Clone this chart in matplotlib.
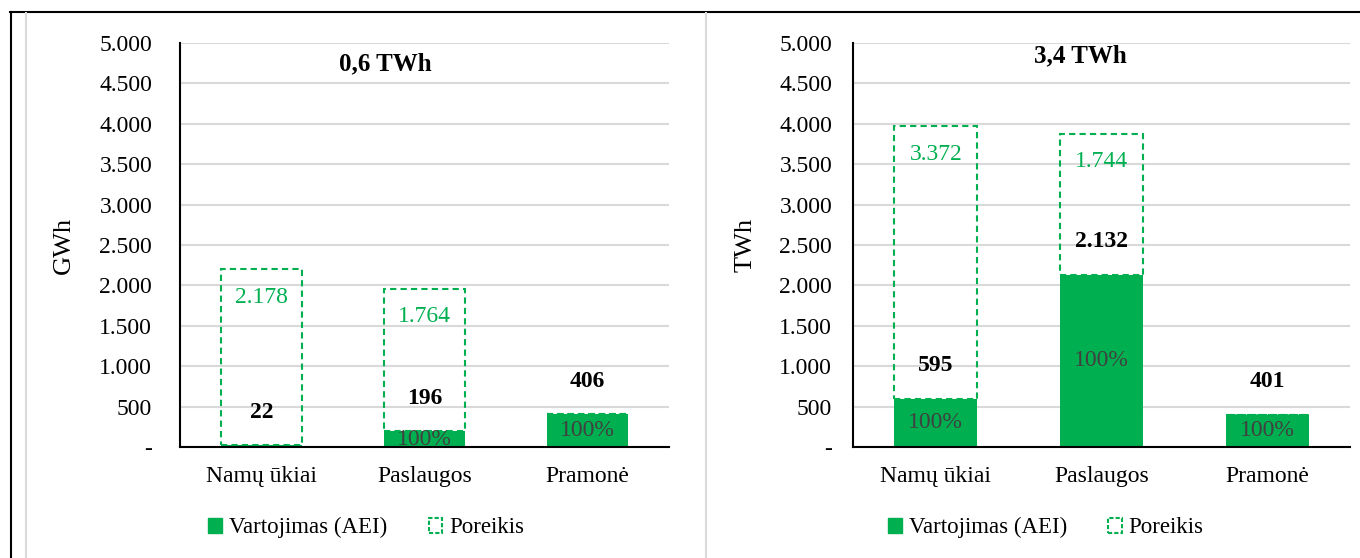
import matplotlib.pyplot as plt
from matplotlib.patches import Patch
from matplotlib.lines import Line2D
from matplotlib.ticker import FuncFormatter

plt.rcParams["font.family"] = ["Liberation Serif", "DejaVu Serif"]

categories = ["Namų ūkiai", "Paslaugos", "Pramonė"]
use_left = [22, 196, 406]
need_left = [2178, 1764, 0]
pct_left = ["", "100%", "100%"]
use_right = [595, 2132, 401]
need_right = [3372, 1744, 0]
pct_right = ["100%", "100%", "100%"]
yticks = [0, 500, 1000, 1500, 2000, 2500, 3000, 3500, 4000, 4500, 5000]

GREEN = "#00B050"
GRID = "#D9D9D9"
W, H = 1360, 558
FS = 17


def fmt(v, pos=None):
    if v == 0:
        return "-"
    return f"{v:,.0f}".replace(",", ".")


def panel(ax, use, need, pct, title, title_xy, ylabel, ylabel_x, tick_pad, leg_x):
    x = list(range(len(categories)))
    ax.bar(x, use, width=0.5, color=GREEN, zorder=2)
    ax.bar(x, need, bottom=use, width=0.5, facecolor="none", edgecolor=GREEN,
           linestyle=(0, (3, 2)), linewidth=1.5, zorder=3)

    for i in x:
        if need[i] > 0:
            ax.annotate(fmt(need[i]), xy=(i, use[i] + need[i]), xytext=(0, -28),
                        textcoords="offset pixels", ha="center", va="center",
                        color=GREEN, fontsize=FS)
        ax.annotate(fmt(use[i]), xy=(i, use[i]), xytext=(0, 33),
                    textcoords="offset pixels", ha="center", va="center",
                    fontweight="bold", fontsize=FS)
        if pct[i]:
            ax.text(i, use[i] / 2, pct[i], ha="center", va="center",
                    color="#404040", fontsize=FS, zorder=4)

    ax.set_xlim(-0.5, len(categories) - 0.5)
    ax.set_ylim(0, 5000)
    ax.set_yticks(yticks)
    ax.yaxis.set_major_formatter(FuncFormatter(fmt))
    ax.set_xticks(x)
    ax.set_xticklabels(categories)
    ax.tick_params(axis="y", length=0, pad=tick_pad, labelsize=FS)
    ax.tick_params(axis="x", length=0, pad=14, labelsize=FS)
    ax.grid(axis="y", color=GRID, linewidth=1.5)
    ax.set_axisbelow(True)
    for s in ["top", "right"]:
        ax.spines[s].set_visible(False)
    for s in ["left", "bottom"]:
        ax.spines[s].set_color("black")
        ax.spines[s].set_linewidth(1.5)
        ax.spines[s].set_zorder(5)

    ax.text(title_xy[0], title_xy[1], title, transform=ax.transAxes,
            ha="center", va="center", fontweight="bold", fontsize=18)
    ax.set_ylabel(ylabel, fontsize=19)
    ax.yaxis.set_label_coords(ylabel_x, 0.5)

    handles = [
        Patch(facecolor=GREEN, edgecolor=GREEN),
        Patch(facecolor="none", edgecolor=GREEN, linestyle=(0, (2, 1)), linewidth=1.5),
    ]
    ax.legend(handles, ["Vartojimas (AEI)", "Poreikis"], loc="center",
              bbox_to_anchor=(leg_x, -0.2), ncol=2, frameon=False,
              fontsize=16.5, handlelength=0.6, handleheight=0.6,
              handletextpad=0.3, columnspacing=1.8)


fig = plt.figure(figsize=(W / 100, H / 100), dpi=100)

ax1 = fig.add_axes([180 / W, (H - 447) / H, 489 / W, 404 / H])
panel(ax1, use_left, need_left, pct_left, "0,6 TWh",
      ((385 - 180) / 489, (447 - 64) / 404), "GWh", (75 - 180) / 489, 20, 0.381)

ax2 = fig.add_axes([853 / W, (H - 447) / H, 497 / W, 404 / H])
panel(ax2, use_right, need_right, pct_right, "3,4 TWh",
      ((1080 - 853) / 497, (447 - 56) / 404), "TWh", (757 - 853) / 497, 15, 0.388)

# frame lines round the two chart areas
fig.add_artist(Line2D([10 / W, 1], [1 - 12 / H, 1 - 12 / H], color="black",
                      linewidth=1.5, transform=fig.transFigure))
fig.add_artist(Line2D([11 / W, 11 / W], [0, 1 - 12 / H], color="black",
                      linewidth=1.5, transform=fig.transFigure))
for px in [26, 706]:
    fig.add_artist(Line2D([px / W, px / W], [0, 1 - 13 / H], color=GRID,
                          linewidth=1.5, transform=fig.transFigure))

fig.savefig("out.png", dpi=100)
